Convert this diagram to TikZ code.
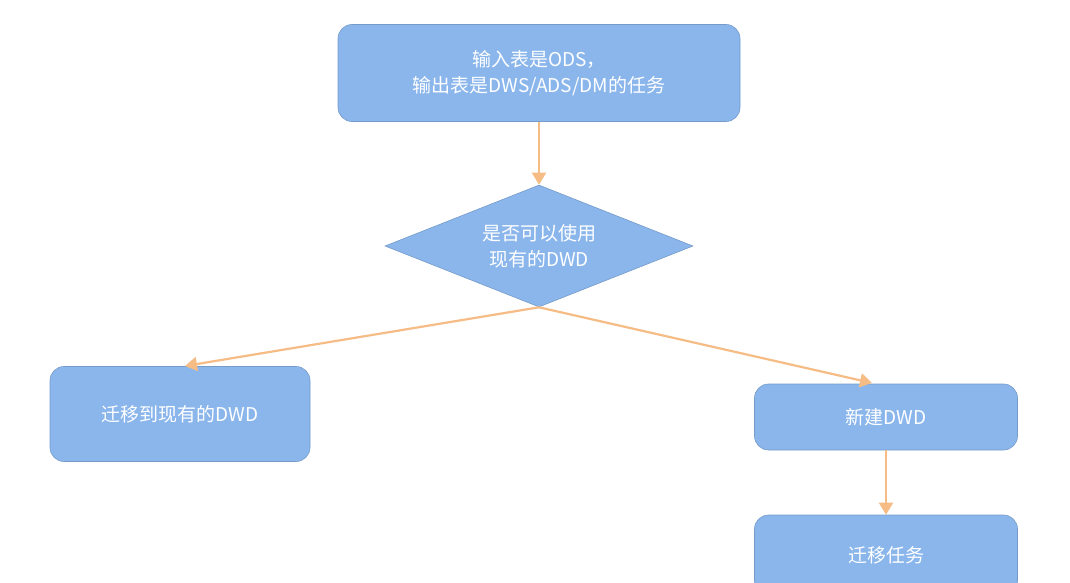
\documentclass[tikz,border=0pt]{standalone}
\usepackage{fontspec}
\setmainfont{Noto Sans CJK SC}
\usetikzlibrary{shapes.geometric,arrows.meta}
\definecolor{boxblue}{HTML}{8AB6EC}
\definecolor{arr}{HTML}{F5BC86}
\begin{document}
\begin{tikzpicture}[x=1pt,y=-1pt,
  box/.style={fill=boxblue,draw=boxblue!85!black,line width=0.6pt,rounded corners=14pt,text=white,font=\fontsize{19}{26}\selectfont,align=center,inner sep=0pt},
  dia/.style={diamond,fill=boxblue,draw=boxblue!85!black,line width=0.6pt,aspect=2.52,text=white,font=\fontsize{19}{26}\selectfont,align=center,inner sep=0pt},
  conn/.style={draw=arr,line width=2.2pt,-{Triangle[length=12pt,width=14pt]}}]
\useasboundingbox (0,0) rectangle (1070,583);
\node[box,minimum width=402pt,minimum height=97pt] (top) at (539,73) {输入表是ODS，\\输出表是DWS/ADS/DM的任务};
\node[dia,minimum width=308pt,minimum height=122pt] (d) at (539,246) {是否可以使用\\现有的DWD};
\node[box,minimum width=260pt,minimum height=95pt] (l) at (180,414) {迁移到现有的DWD};
\node[box,minimum width=263pt,minimum height=66pt] (r) at (886,417) {新建DWD};
\node[box,minimum width=263pt,minimum height=80pt] (b) at (886,555) {迁移任务};
\draw[conn] (top.south) -- (d.north);
\draw[conn] (d.south) -- (185,366);
\draw[conn] (d.south) -- (872,383);
\draw[conn] (r.south) -- (b.north);
\end{tikzpicture}
\end{document}
